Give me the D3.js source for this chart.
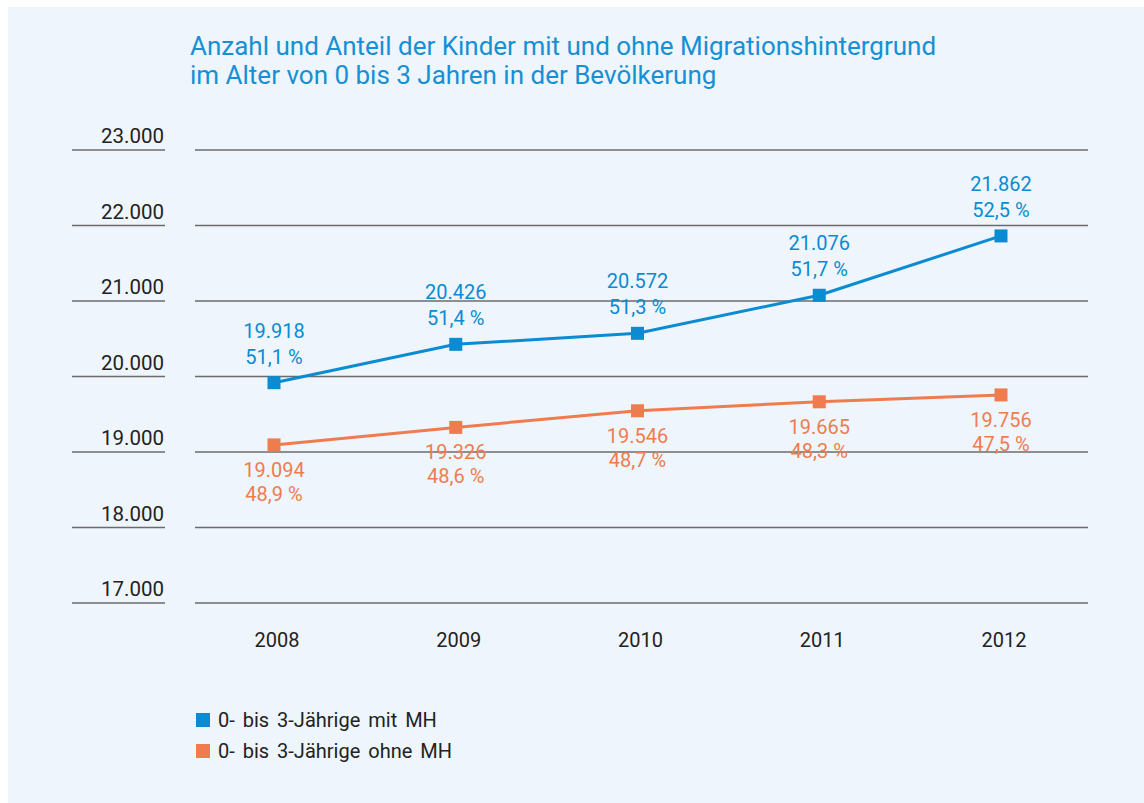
<!DOCTYPE html>
<html lang="de">
<head>
    <meta charset="UTF-8">
    <title>Kinder mit und ohne Migrationshintergrund</title>
    <style>
        html, body { margin: 0; padding: 0; background: #fff; }
        #chart-wrapper { width: 1144px; height: 803px; }
        text { font-family: Roboto, "Liberation Sans", Arial, sans-serif; }
    </style>
</head>
<body>
    <div id="chart-wrapper"></div>

    <script src="https://d3js.org/d3.v7.min.js"></script>
    <script>
        const years = ['2008', '2009', '2010', '2011', '2012']
        const mitMH = [19918, 20426, 20572, 21076, 21862]
        const mitMHPct = ['51,1 %', '51,4 %', '51,3 %', '51,7 %', '52,5 %']
        const ohneMH = [19094, 19326, 19546, 19665, 19756]
        const ohneMHPct = ['48,9 %', '48,6 %', '48,7 %', '48,3 %', '47,5 %']
        const yTicks = [17000, 18000, 19000, 20000, 21000, 22000, 23000]
        const legendLabels = ['0- bis 3-Jährige mit MH', '0- bis 3-Jährige ohne MH']

        const blue = '#0a8bd2'
        const orange = '#ef7c4e'
        const width = 1144
        const height = 803

        const fmt = d3.formatLocale({ decimal: ',', thousands: '.', grouping: [3], currency: ['', ' €'] }).format(',d')

        const svg = d3.select('#chart-wrapper')
            .append('svg')
            .attr('width', width)
            .attr('height', height)

        // panel background
        svg.append('rect')
            .attr('x', 8).attr('y', 7)
            .attr('width', width - 8).attr('height', height - 7)
            .attr('fill', '#eef5fc')

        // title
        svg.append('text')
            .attr('x', 190).attr('y', 55)
            .attr('fill', '#1690d4')
            .style('font-size', '26px')
            .text('Anzahl und Anteil der Kinder mit und ohne Migrationshintergrund')
        svg.append('text')
            .attr('x', 190).attr('y', 84)
            .attr('fill', '#1690d4')
            .style('font-size', '26px')
            .text('im Alter von 0 bis 3 Jahren in der Bevölkerung')

        const x = d3.scalePoint()
            .domain(years)
            .range([274, 1001])

        const y = d3.scaleLinear()
            .domain([17000, 23000])
            .range([603, 150])

        // gridlines + tick segments
        const grid = svg.append('g')
        grid.selectAll('line.grid')
            .data(yTicks)
            .enter()
            .append('line')
            .attr('x1', 195).attr('x2', 1088)
            .attr('y1', d => y(d)).attr('y2', d => y(d))
            .attr('stroke', '#6b6b6b')
            .attr('stroke-width', 1.5)
        grid.selectAll('line.tick')
            .data(yTicks)
            .enter()
            .append('line')
            .attr('x1', 72).attr('x2', 165)
            .attr('y1', d => y(d)).attr('y2', d => y(d))
            .attr('stroke', '#6b6b6b')
            .attr('stroke-width', 1.5)
        grid.selectAll('text')
            .data(yTicks)
            .enter()
            .append('text')
            .attr('x', 164)
            .attr('y', d => y(d) - 7)
            .attr('text-anchor', 'end')
            .attr('fill', '#222')
            .style('font-size', '20.5px')
            .text(d => fmt(d))

        // x labels
        svg.append('g')
            .selectAll('text')
            .data(years)
            .enter()
            .append('text')
            .attr('x', d => x(d) + 3)
            .attr('y', 647)
            .attr('text-anchor', 'middle')
            .attr('fill', '#222')
            .style('font-size', '20px')
            .text(d => d)

        const line = d3.line()
            .x((d, i) => x(years[i]))
            .y(d => y(d))

        function drawSeries(values, pcts, color, valOff, pctOff) {
            const g = svg.append('g')
            g.append('path')
                .datum(values)
                .attr('d', line)
                .attr('fill', 'none')
                .attr('stroke', color)
                .attr('stroke-width', 3)
            g.selectAll('rect')
                .data(values)
                .enter()
                .append('rect')
                .attr('x', (d, i) => x(years[i]) - 6.5)
                .attr('y', d => y(d) - 6.5)
                .attr('width', 13).attr('height', 13)
                .attr('fill', color)
            g.selectAll('text.val')
                .data(values)
                .enter()
                .append('text')
                .attr('class', 'val')
                .attr('x', (d, i) => x(years[i]))
                .attr('y', d => y(d) + valOff)
                .attr('text-anchor', 'middle')
                .attr('fill', color)
                .style('font-size', '20px')
                .text(d => fmt(d))
            g.selectAll('text.pct')
                .data(values)
                .enter()
                .append('text')
                .attr('class', 'pct')
                .attr('x', (d, i) => x(years[i]))
                .attr('y', d => y(d) + pctOff)
                .attr('text-anchor', 'middle')
                .attr('fill', color)
                .style('font-size', '20px')
                .text((d, i) => pcts[i])
        }

        drawSeries(mitMH, mitMHPct, blue, -45, -19)
        drawSeries(ohneMH, ohneMHPct, orange, 32, 56)

        // legend
        const legend = svg.append('g')
            .selectAll('g')
            .data(legendLabels)
            .enter()
            .append('g')
            .attr('transform', (d, i) => `translate(196, ${ 713 + i * 31 })`)
        legend.append('rect')
            .attr('width', 14).attr('height', 14)
            .attr('fill', (d, i) => i === 0 ? blue : orange)
        legend.append('text')
            .attr('x', 22).attr('y', 14)
            .attr('fill', '#222')
            .style('font-size', '20px')
            .style('word-spacing', '3px')
            .text(d => d)
    </script>
</body>
</html>
